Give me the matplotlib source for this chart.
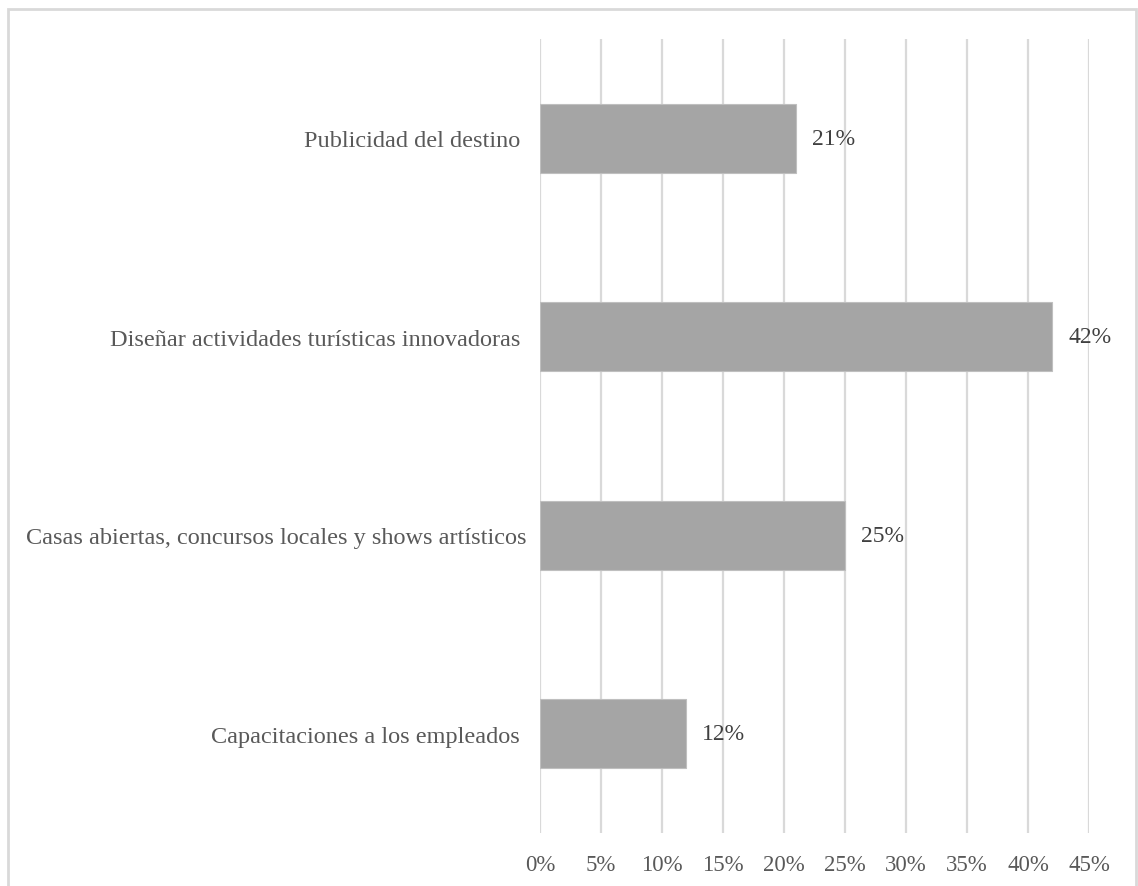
import matplotlib
matplotlib.use("Agg")
import matplotlib.pyplot as plt
from matplotlib.patches import Rectangle
from matplotlib.ticker import FuncFormatter

categories = [
    "Publicidad del destino ",
    "Diseñar actividades turísticas innovadoras ",
    "Casas abiertas, concursos locales y shows artísticos",
    "Capacitaciones a los empleados ",
]
values = [0.21, 0.42, 0.25, 0.12]
value_labels = ["21%", "42%", "25%", "12%"]
xticks = [0, 0.05, 0.10, 0.15, 0.20, 0.25, 0.30, 0.35, 0.40, 0.45]

plt.rcParams["font.family"] = ["Liberation Serif", "DejaVu Serif"]

W, H = 1138, 887
fig = plt.figure(figsize=(W / 100, H / 100), dpi=100)
ax = fig.add_axes([540 / W, 1 - 834 / H, (1089 - 540) / W, (834 - 40) / H])

y = list(range(len(categories)))
ax.barh(y, values, height=0.35, color="#a5a5a5", edgecolor="#bfbfbf", linewidth=0.8, zorder=3)
ax.set_ylim(len(categories) - 0.5, -0.5)
ax.set_xlim(0, 0.45)
ax.set_xticks(xticks)
ax.xaxis.set_major_formatter(FuncFormatter(lambda v, p: f"{round(v * 100)}%"))
ax.set_yticks(y)
ax.set_yticklabels(categories, fontsize=17.5)
ax.grid(axis="x", color="#d9d9d9", linewidth=1.6, zorder=0)
for s in ax.spines.values():
    s.set_visible(False)
ax.tick_params(axis="both", length=0, labelcolor="#595959")
ax.tick_params(axis="x", labelsize=16.5, pad=15)
ax.tick_params(axis="y", pad=10)

for yi, v, lab in zip(y, values, value_labels):
    ax.annotate(lab, xy=(v, yi), xytext=(16, 0), textcoords="offset pixels",
                ha="left", va="center", fontsize=17, color="#404040", zorder=4)

fig.patches.append(Rectangle((8 / W, -0.05), (1136 - 8) / W, 1.05 - 10 / H,
                             transform=fig.transFigure, fill=False,
                             edgecolor="#d9d9d9", linewidth=2))

fig.savefig("out.png", dpi=100, facecolor="white")
